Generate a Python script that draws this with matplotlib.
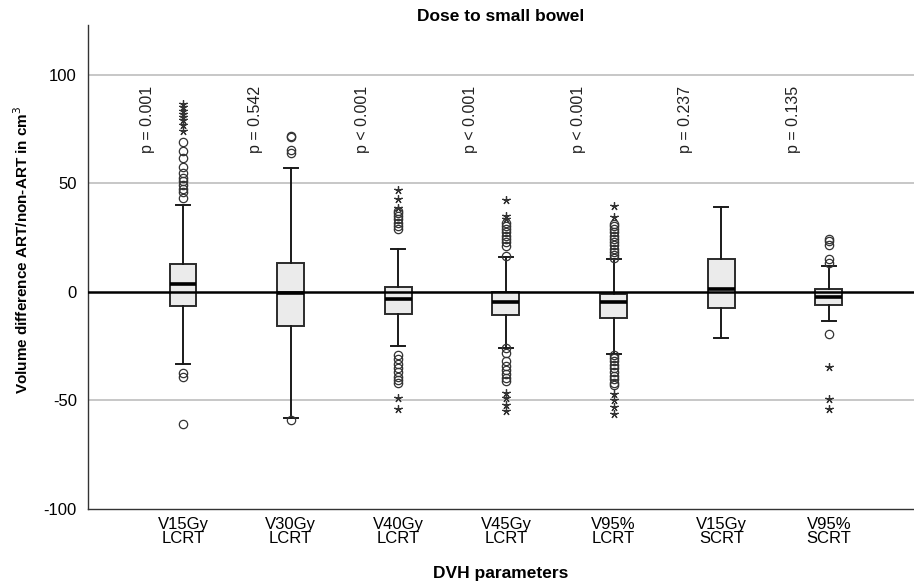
import matplotlib
matplotlib.use("Agg")
import matplotlib.pyplot as plt

plt.rcParams['font.family'] = ['Liberation Sans', 'DejaVu Sans']
plt.rcParams['axes.unicode_minus'] = False

categories = ["V15Gy\nLCRT", "V30Gy\nLCRT", "V40Gy\nLCRT", "V45Gy\nLCRT",
              "V95%\nLCRT", "V15Gy\nSCRT", "V95%\nSCRT"]
p_labels = ["p = 0.001", "p = 0.542", "p < 0.001", "p < 0.001",
            "p < 0.001", "p = 0.237", "p = 0.135"]

q1 = [-6.5, -15.7, -10.1, -10.6, -12.0, -7.2, -6.0]
med = [3.7, -0.3, -3.4, -4.5, -4.5, 1.4, -2.5]
q3 = [12.9, 13.2, 2.2, 0.0, -0.9, 15.2, 1.5]
whislo = [-33.0, -58.0, -24.7, -25.6, -28.6, -21.0, -13.2]
whishi = [40.0, 57.0, 19.8, 16.0, 15.2, 39.0, 12.0]

circles = [
    [43.5, 46, 47.5, 49.5, 51, 52.5, 55, 57.5, 61.5, 65, 69, -37.5, -39, -61],
    [64, 65.5, 71.5, 72, -59],
    [29, 30.5, 32, 33.5, 35, 36.5, 37.5, -29, -31, -33, -35, -37, -39, -40.5, -42],
    [16.5, 21, 23, 24.5, 26, 27.5, 29, 30.5, 32, -26, -28, -32, -34, -36, -38, -39.5, -41],
    [15.5, 17, 18.5, 20, 21.5, 23, 24.5, 26, 27.5, 29, 30.5, 31.5,
     -29, -30.5, -32, -33.5, -35, -37, -38.5, -40, -42, -43],
    [],
    [13.5, 15, 21.5, 23.5, 24.5, -19.5],
]
stars = [
    [74, 77, 79, 80.5, 82, 83.5, 85, 86.5],
    [],
    [38.5, 43, 47, -49, -54],
    [33.5, 35, 42.5, -46.5, -49, -52, -55],
    [34.5, 39.5, -47, -50, -53, -56],
    [],
    [-34.5, -49.5, -54],
]

fig = plt.figure(figsize=(9.14, 5.83), dpi=100)
ax = fig.add_axes([88/914, 1 - 509/583, 1 - 88/914, (509 - 25)/583])

positions = list(range(1, len(categories) + 1))
stats = []
for i in range(len(categories)):
    stats.append(dict(med=med[i], q1=q1[i], q3=q3[i], whislo=whislo[i],
                      whishi=whishi[i], fliers=[]))

ax.bxp(stats, positions=positions, widths=0.25, patch_artist=True,
       showfliers=False,
       boxprops=dict(facecolor='#ebebeb', edgecolor='#2b2b2b', linewidth=1.4),
       medianprops=dict(color='black', linewidth=2.6),
       whiskerprops=dict(color='#1a1a1a', linewidth=1.4),
       capprops=dict(color='#1a1a1a', linewidth=1.4),
       capwidths=0.13, zorder=3)

for i, pos in enumerate(positions):
    if circles[i]:
        ax.plot([pos] * len(circles[i]), circles[i], linestyle='none', marker='o',
                markersize=6, markerfacecolor='none', markeredgecolor='#333333',
                markeredgewidth=0.9, zorder=4)
    if stars[i]:
        ax.plot([pos] * len(stars[i]), stars[i], linestyle='none', marker=(5, 2, 0),
                markersize=6, color='#333333', markeredgewidth=0.9, zorder=4)
    ax.text(pos - 0.33, 64, p_labels[i], rotation=90, ha='center', va='bottom',
            fontsize=11.5, color='#222222')

for y in [100, 50, -50]:
    ax.axhline(y, color='#bdbdbd', linewidth=1.2, zorder=1)
ax.axhline(0, color='black', linewidth=1.8, zorder=5)

ax.set_xlim(0.118, 7.79)
ax.set_ylim(-100, 123)
ax.set_yticks([-100, -50, 0, 50, 100])
ax.set_xticks(positions)
ax.set_xticklabels(categories, fontsize=12, linespacing=0.9)
ax.tick_params(axis='y', labelsize=12, length=0, pad=8)
ax.tick_params(axis='x', length=0, pad=6)

for s in ['top', 'right']:
    ax.spines[s].set_visible(False)
for s in ['left', 'bottom']:
    ax.spines[s].set_linewidth(1.0)
    ax.spines[s].set_color('#333333')

ax.set_ylabel("Volume difference ART/non-ART in cm$^3$", fontsize=11,
              fontweight='bold', va='center')
ax.yaxis.set_label_coords(-0.08, 0.535)
ax.set_xlabel("DVH parameters", fontsize=12.5, fontweight='bold', labelpad=14)
ax.set_title("Dose to small bowel", fontsize=12.5, fontweight='bold', pad=3)

fig.savefig("out.png", dpi=100)
